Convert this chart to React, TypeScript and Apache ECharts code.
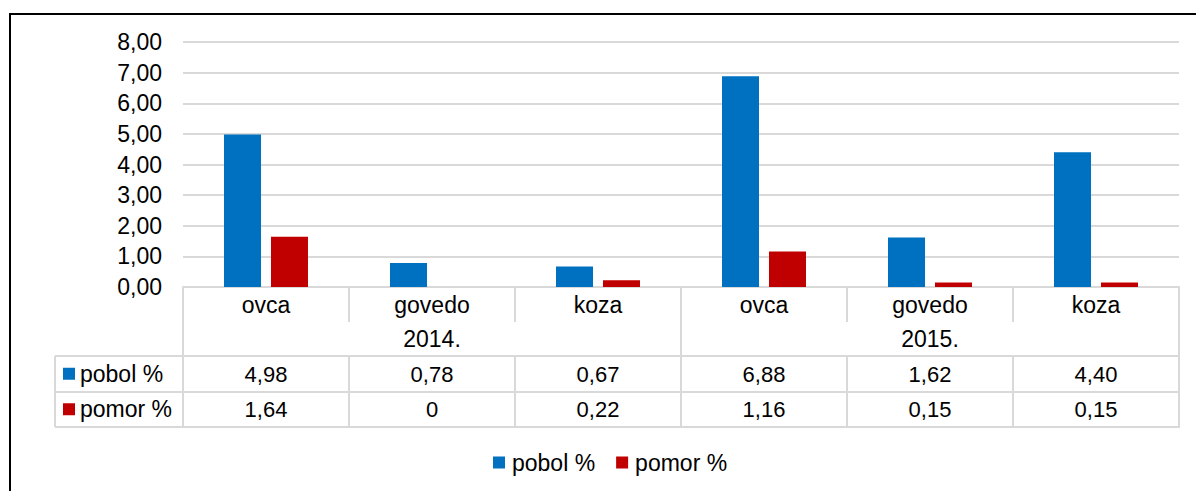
import React, { useEffect, useRef } from "react";
import * as echarts from "echarts";

const categories = ["ovca", "govedo", "koza", "ovca", "govedo", "koza"];
const years = ["2014.", "2015."];
const pobol = [4.98, 0.78, 0.67, 6.88, 1.62, 4.4];
const pomor = [1.64, 0, 0.22, 1.16, 0.15, 0.15];
const seriesNames = ["pobol %", "pomor %"];
const yTicks = { min: 0, max: 8, interval: 1 };

const BLUE = "#0070C0";
const RED = "#C00000";
const GRID_C = "#d9d9d9";
const FONT = "'Liberation Sans', Arial, sans-serif";

const W = 1196;
const H = 491;
const GRID_LEFT = 183;
const GRID_RIGHT_X = 1179;
const GRID_TOP = 42;
const AXIS_Y = 287;
const ROWS = [35, 34, 36, 35];
const TABLE_LEFT = 55;

const fmt = (v: number) => (v === 0 ? "0" : v.toFixed(2).replace(".", ","));

export default function App() {
  const ref = useRef<HTMLDivElement>(null);
  useEffect(() => {
    if (!ref.current) return;
    const chart = echarts.init(ref.current, null, { renderer: "svg" });
    const offsets = [0, ROWS[0], ROWS[0] + ROWS[1], ROWS[0] + ROWS[1] + ROWS[2]];
    const tableBottom = AXIS_Y + ROWS.reduce((a, b) => a + b, 0);
    const lineStyle = { color: GRID_C, width: 2 };

    const mkAxis = (
      idx: number,
      data: string[],
      showLine: boolean,
      formatter: (v: string, i: number) => string,
      fontSize: number
    ) => ({
      type: "category",
      position: "bottom",
      offset: offsets[idx],
      data,
      axisLine: { show: showLine, lineStyle },
      axisTick: { show: true, length: ROWS[idx], alignWithLabel: false, lineStyle },
      axisLabel: {
        interval: 0,
        margin: 0,
        lineHeight: ROWS[idx],
        fontSize,
        fontFamily: FONT,
        color: "#000",
        formatter,
      },
      splitLine: { show: false },
    });

    const gLine = (x1: number, y1: number, x2: number, y2: number) => ({
      type: "line",
      shape: { x1, y1, x2, y2 },
      style: { stroke: GRID_C, lineWidth: 2 },
      silent: true,
    });

    chart.setOption({
      animation: false,
      textStyle: { fontFamily: FONT },
      grid: {
        left: GRID_LEFT,
        right: W - GRID_RIGHT_X,
        top: GRID_TOP,
        bottom: H - AXIS_Y,
        containLabel: false,
      },
      legend: [
        {
          data: seriesNames,
          left: 493,
          top: 451,
          padding: 0,
          icon: "rect",
          itemWidth: 12,
          itemHeight: 12,
          itemGap: 21,
          selectedMode: false,
          textStyle: { fontSize: 23, color: "#000", fontFamily: FONT, padding: [0, 0, 0, 2] },
        },
        {
          data: seriesNames,
          orient: "vertical",
          left: 63,
          top: AXIS_Y + offsets[2],
          padding: 0,
          icon: "rect",
          itemWidth: 12,
          itemHeight: 12,
          itemGap: 0,
          selectedMode: false,
          textStyle: { fontSize: 23, color: "#000", fontFamily: FONT, lineHeight: 35.5 },
        },
      ],
      xAxis: [
        mkAxis(0, categories, true, (v) => v, 23),
        mkAxis(1, years, false, (v) => v, 23),
        mkAxis(2, categories, true, (_v, i) => fmt(pobol[i]), 22),
        mkAxis(3, categories, true, (_v, i) => fmt(pomor[i]), 22),
      ],
      yAxis: {
        type: "value",
        min: yTicks.min,
        max: yTicks.max,
        interval: yTicks.interval,
        axisLine: { show: false },
        axisTick: { show: false },
        axisLabel: {
          margin: 21,
          fontSize: 23,
          fontFamily: FONT,
          color: "#000",
          formatter: (v: number) => v.toFixed(2).replace(".", ","),
        },
        splitLine: { lineStyle },
      },
      series: [
        {
          name: seriesNames[0],
          type: "bar",
          xAxisIndex: 0,
          data: pobol,
          barWidth: 37,
          barGap: "27%",
          itemStyle: { color: BLUE },
        },
        {
          name: seriesNames[1],
          type: "bar",
          xAxisIndex: 0,
          data: pomor,
          barWidth: 37,
          barGap: "27%",
          itemStyle: { color: RED },
        },
      ],
      graphic: [
        gLine(TABLE_LEFT, AXIS_Y + offsets[2], GRID_LEFT, AXIS_Y + offsets[2]),
        gLine(TABLE_LEFT, AXIS_Y + offsets[3], GRID_LEFT, AXIS_Y + offsets[3]),
        gLine(TABLE_LEFT, tableBottom, GRID_RIGHT_X + 1, tableBottom),
        gLine(TABLE_LEFT, AXIS_Y + offsets[2], TABLE_LEFT, tableBottom),
        {
          type: "rect",
          shape: { x: 10, y: 14, width: W + 20, height: H + 20 },
          style: { fill: "none", stroke: "#000", lineWidth: 2 },
          silent: true,
        },
      ],
    });
    return () => chart.dispose();
  }, []);
  return (
    <div
      ref={ref}
      style={{ position: "fixed", left: 0, top: 0, width: W, height: H, background: "#fff" }}
    />
  );
}
